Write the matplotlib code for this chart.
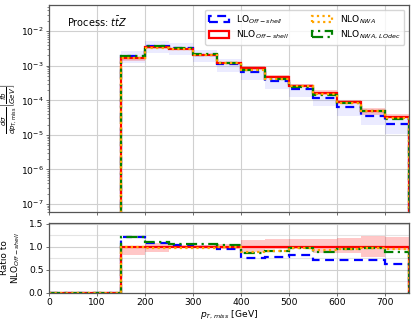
import numpy as np
import matplotlib
matplotlib.use("Agg")
import matplotlib.pyplot as plt
from matplotlib.ticker import MultipleLocator, LogLocator, NullFormatter, FixedLocator, NullLocator
from matplotlib.patches import Patch

# ---- data ----
edges = [150, 200, 250, 300, 350, 400, 450, 500, 550, 600, 650, 700, 750]
nlo_off = [1.65e-3, 3.4e-3, 3.15e-3, 2.08e-3, 1.2e-3, 8.7e-4, 4.65e-4,
           2.6e-4, 1.66e-4, 8.9e-5, 5.0e-5, 3.25e-5]
r_lo = [1.2, 1.09, 1.04, 1.0, 0.95, 0.76, 0.77, 0.81, 0.71, 0.70, 0.70, 0.63]
r_nwa_lodec = [1.2, 1.10, 1.06, 1.06, 1.03, 0.87, 0.91, 0.96, 0.89, 0.94, 0.96, 0.88]
r_nwa = [1.0, 0.96, 0.98, 0.98, 1.0, 0.88, 0.90, 0.97, 0.92, 0.95, 0.97, 0.95]
r_band_lo = [0.81, 0.88, 0.96, 0.96, 0.95, 0.88, 0.95, 0.95, 0.87, 0.87, 0.77, 0.92]
r_band_hi = [1.02, 1.07, 1.04, 1.03, 1.05, 1.14, 1.17, 1.17, 1.17, 1.18, 1.24, 1.22]
lo_scale_up = [1.40, 1.42, 1.40, 1.40, 1.40, 1.42, 1.42, 1.42, 1.42, 1.45, 1.45, 1.50]
lo_scale_dn = [0.60, 0.62, 0.62, 0.60, 0.60, 0.60, 0.58, 0.58, 0.58, 0.55, 0.55, 0.52]
ratio_ticks = [0.0, 0.5, 1.0, 1.5]
ratio_minor_grid = [0.25, 0.75, 1.25]

# ---- derived ----
edges_a = np.array(edges, float)
nlo = np.array(nlo_off)
lo = nlo * np.array(r_lo)
nwa = nlo * np.array(r_nwa)
nwa_lodec = nlo * np.array(r_nwa_lodec)
lo_up = lo * np.array(lo_scale_up)
lo_dn = lo * np.array(lo_scale_dn)
nlo_up = nlo * np.array(r_band_hi)
nlo_dn = nlo * np.array(r_band_lo)

plt.rcParams['font.family'] = ['DejaVu Sans']
plt.rcParams['font.size'] = 6.6
plt.rcParams['mathtext.fontset'] = 'dejavusans'

fig = plt.figure(figsize=(4.15, 3.23), dpi=100)
ax = fig.add_axes([0.118, 0.3437, 0.8675, 0.6408])
axr = fig.add_axes([0.118, 0.0938, 0.8675, 0.2167])

lw = 1.6
styles = dict(
    lo=dict(color='blue', ls=(0, (4, 2.5)), lw=lw),
    nlo=dict(color='red', ls='-', lw=lw),
    nwa=dict(color='orange', ls=(0, (1, 1.5)), lw=lw),
    lodec=dict(color='green', ls=(0, (5, 2, 1, 2)), lw=lw),
)

def bands(a, lo_v, hi_v, color, alpha):
    a.stairs(hi_v, edges_a, baseline=lo_v, fill=True, color=color, alpha=alpha, lw=0)

# main panel
bands(ax, lo_dn, lo_up, 'blue', 0.08)
bands(ax, nlo_dn, nlo_up, 'red', 0.2)
base = 1e-12
ax.stairs(lo, edges_a, baseline=base, fill=False, **styles['lo'])
ax.stairs(nlo, edges_a, baseline=base, fill=False, **styles['nlo'])
ax.stairs(nwa_lodec, edges_a, baseline=base, fill=False, **styles['lodec'])
ax.stairs(nwa, edges_a, baseline=base, fill=False, **styles['nwa'])

labels = {'lo': r'LO$_{Off-shell}$', 'nlo': r'NLO$_{Off-shell}$',
          'nwa': r'NLO$_{NWA}$', 'lodec': r'NLO$_{NWA,\,LOdec}$'}
handles = [Patch(facecolor='none', edgecolor=styles[k]['color'], linestyle=styles[k]['ls'],
                 linewidth=lw, label=labels[k]) for k in ('lo', 'nlo', 'nwa', 'lodec')]

ax.set_yscale('log')
ax.set_xlim(0, 750)
ax.set_ylim(10**-7.23, 10**-1.24)
ax.yaxis.set_major_locator(LogLocator(base=10, numticks=20))
ax.yaxis.set_minor_locator(LogLocator(base=10, subs=np.arange(2, 10), numticks=100))
ax.yaxis.set_minor_formatter(NullFormatter())
ax.xaxis.set_major_locator(MultipleLocator(100))
ax.set_xticklabels([])
ax.grid(True, which='major', color='#d0d0d0', lw=0.8)
ax.set_ylabel(r'$\frac{d\sigma}{dp_{T,\mathrm{miss}}}\left[\frac{fb}{GeV}\right]$', fontsize=7.2, labelpad=1)
ax.text(0.05, 0.95, r'Process: $t\bar{t}Z$', transform=ax.transAxes, ha='left', va='top', fontsize=7)
ax.legend(handles=handles, ncol=2, loc='upper right',
          fontsize=6.6, handlelength=2.2, columnspacing=2.5, framealpha=0.8,
          borderpad=0.4, labelspacing=0.3)

# ratio panel
edges_r = np.concatenate([[0.0], edges_a])
def rat(v):
    return np.concatenate([[0.0], np.array(v, float)])
for g in ratio_minor_grid:
    axr.axhline(g, color='#e4e4e4', lw=0.8, zorder=0)
axr.stairs(r_band_hi, edges_a, baseline=r_band_lo, fill=True, color='red', alpha=0.22, lw=0)
axr.stairs(rat(r_lo), edges_r, baseline=0, fill=False, **styles['lo'])
axr.stairs(rat([1.0] * len(nlo_off)), edges_r, baseline=0, fill=False, **styles['nlo'])
axr.stairs(rat(r_nwa_lodec), edges_r, baseline=0, fill=False, **styles['lodec'])
axr.stairs(rat(r_nwa), edges_r, baseline=0, fill=False, **styles['nwa'])
axr.set_xlim(0, 750)
axr.set_ylim(0, 1.52)
axr.yaxis.set_major_locator(FixedLocator(ratio_ticks))
axr.yaxis.set_minor_locator(NullLocator())
axr.xaxis.set_major_locator(MultipleLocator(100))
axr.grid(True, which='major', color='#d0d0d0', lw=0.8)
axr.set_xlabel(r'$p_{T,miss}$ [GeV]', labelpad=1)
axr.set_ylabel('Ratio to\n' + r'NLO$_{Off-shell}$', labelpad=5, linespacing=1.0, fontsize=6.4)

for a in (ax, axr):
    a.set_axisbelow(True)
    for s in a.spines.values():
        s.set_color('#555555')
        s.set_linewidth(0.9)
    a.tick_params(which='major', length=2.5, width=0.6, pad=1.5, color='#555555')
    a.tick_params(which='minor', length=1.5, width=0.5, color='#555555')

fig.savefig('out.png', dpi=100)
